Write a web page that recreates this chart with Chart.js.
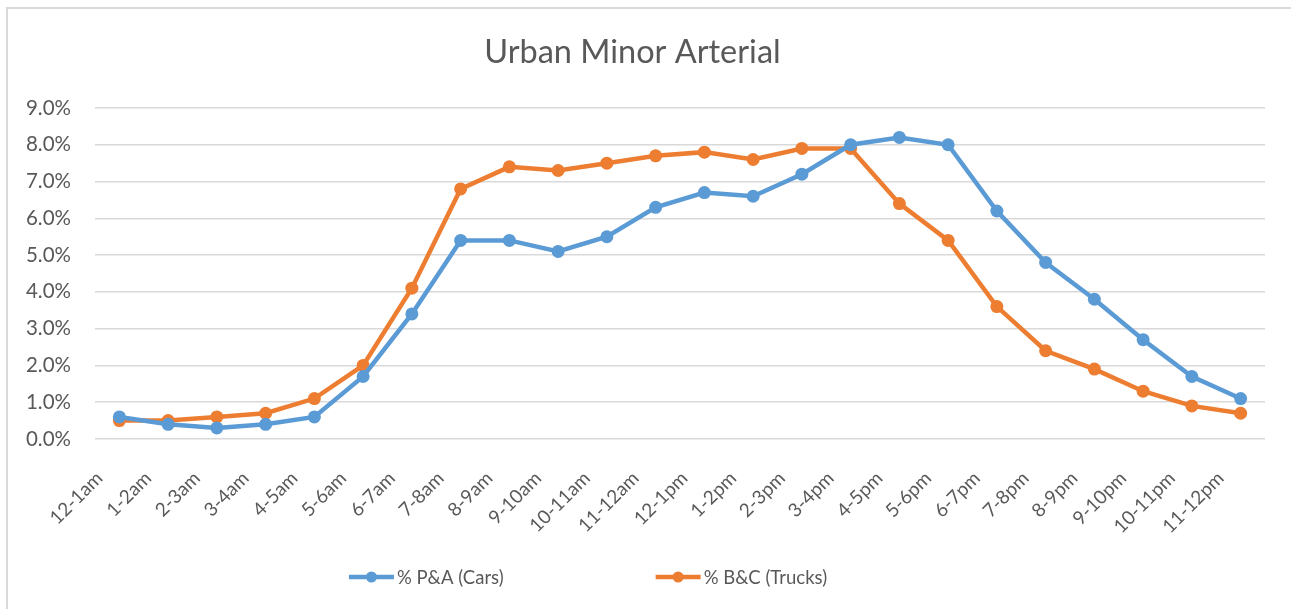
<!DOCTYPE html>
<html>
<head>
<meta charset="utf-8">
<script src="https://cdn.jsdelivr.net/npm/chart.js@4/dist/chart.umd.min.js"></script>
<style>
  html, body { margin: 0; padding: 0; background: #fff; overflow: hidden; }
  #wrap { position: relative; width: 1291px; height: 609px; overflow: hidden; }
  #frame { position: absolute; left: 6px; top: 7px; width: 1400px; height: 700px;
    border-top: 2px solid #d9d9d9; border-left: 2px solid #d9d9d9; box-sizing: border-box; }
  #c { position: absolute; left: 0; top: 0; }
</style>
</head>
<body>
<div id="wrap">
  <div id="frame"></div>
  <canvas id="c" width="1291" height="609"></canvas>
</div>
<script>
const chartTitle = "Urban Minor Arterial";
const categories = ["12-1am","1-2am","2-3am","3-4am","4-5am","5-6am","6-7am","7-8am","8-9am","9-10am","10-11am","11-12am",
  "12-1pm","1-2pm","2-3pm","3-4pm","4-5pm","5-6pm","6-7pm","7-8pm","8-9pm","9-10pm","10-11pm","11-12pm"];
const seriesNames = ["% P&A (Cars)", "% B&C (Trucks)"];
const carsPct   = [0.6,0.4,0.3,0.4,0.6,1.7,3.4,5.4,5.4,5.1,5.5,6.3,6.7,6.6,7.2,8.0,8.2,8.0,6.2,4.8,3.8,2.7,1.7,1.1];
const trucksPct = [0.5,0.5,0.6,0.7,1.1,2.0,4.1,6.8,7.4,7.3,7.5,7.7,7.8,7.6,7.9,7.9,6.4,5.4,3.6,2.4,1.9,1.3,0.9,0.7];
const yMin = 0, yMax = 9, yStep = 1;

const FONT = "Lato, 'Open Sans', sans-serif";
const TXT = "#595959";
const BLUE = "#5B9BD5", ORANGE = "#ED7D31";

const legendPlugin = {
  id: 'excelLegend',
  afterDraw(chart) {
    const ctx = chart.ctx;
    const y = 577;
    const lineW = 45, gapText = 3, itemGap = 152;
    ctx.save();
    ctx.font = "18.5px " + FONT;
    const widths = chart.data.datasets.map(d => ctx.measureText(d.label).width);
    const total = widths.reduce((a,b)=>a+b,0) + chart.data.datasets.length*(lineW+gapText) + itemGap*(chart.data.datasets.length-1);
    let x = 588 - total/2;
    chart.data.datasets.forEach((d, i) => {
      ctx.strokeStyle = d.borderColor;
      ctx.lineWidth = 4.5;
      ctx.lineCap = 'butt';
      ctx.beginPath(); ctx.moveTo(x, y); ctx.lineTo(x+lineW, y); ctx.stroke();
      ctx.fillStyle = d.borderColor;
      ctx.beginPath(); ctx.arc(x+lineW/2, y, 5.5, 0, Math.PI*2); ctx.fill();
      ctx.fillStyle = TXT;
      ctx.textAlign = 'left'; ctx.textBaseline = 'middle';
      ctx.fillText(d.label, x+lineW+gapText, y+1);
      x += lineW + gapText + widths[i] + itemGap;
    });
    ctx.restore();
  }
};

new Chart(document.getElementById('c'), {
  type: 'line',
  data: {
    labels: categories,
    datasets: [
      { label: seriesNames[0], data: carsPct, borderColor: BLUE, backgroundColor: BLUE,
        borderWidth: 4.5, pointRadius: 6.5, pointHoverRadius: 6.5, pointBorderWidth: 0, tension: 0 },
      { label: seriesNames[1], data: trucksPct, borderColor: ORANGE, backgroundColor: ORANGE,
        borderWidth: 4.5, pointRadius: 6.5, pointHoverRadius: 6.5, pointBorderWidth: 0, tension: 0 }
    ]
  },
  options: {
    responsive: false,
    animation: false,
    layout: { padding: { left: 0, right: 26, top: 0, bottom: 0 } },
    plugins: {
      legend: { display: false },
      tooltip: { enabled: false },
      title: { display: true, text: chartTitle, color: TXT,
        font: { family: FONT, size: 32.5, weight: 'normal' }, padding: { top: 33, bottom: 36 } }
    },
    scales: {
      x: {
        offset: true,
        grid: { display: false, drawTicks: false },
        border: { display: false },
        ticks: { color: TXT, font: { family: FONT, size: 19 }, minRotation: 45, maxRotation: 45,
          autoSkip: false, padding: 28, labelOffset: -20 },
        afterFit: (s) => { s.height = 170; }
      },
      y: {
        min: yMin, max: yMax,
        grid: { color: '#d9d9d9', lineWidth: 1.5, drawTicks: false },
        border: { display: false },
        ticks: { stepSize: yStep, color: TXT, font: { family: FONT, size: 20.5 }, padding: 24,
          callback: (v) => v.toFixed(1) + '%' },
        afterFit: (s) => { s.width = 95; }
      }
    }
  },
  plugins: [legendPlugin]
});
</script>
</body>
</html>
